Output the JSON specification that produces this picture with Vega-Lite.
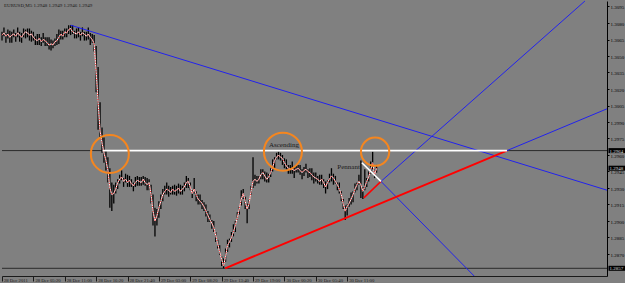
{
"$schema": "https://vega.github.io/schema/vega-lite/v6.json",
"width": 605, "height": 275, "padding": 0, "autosize": {"type": "pad"},
"background": "#808080",
"config": {"view": {"stroke": null},
 "axisX": {"title": null, "grid": false,
  "labelAlign": "left", "labelBaseline": "top", "labelOffset": 1.5, "labelPadding": -3.5, "tickSize": 5,
  "tickColor": "#1a1a1a", "domainColor": "#1a1a1a", "labelColor": "#1a1a1a",
  "labelFont": "Liberation Serif", "labelFontSize": 4.7, "labelOverlap": false, "labelFlush": false, "labelBound": false},
 "axisY": {"title": null, "grid": false, "tickSize": 2, "labelPadding": 1,
  "tickColor": "#000000", "domainColor": "#000000", "labelColor": "#000000",
  "labelFont": "Liberation Serif", "labelFontSize": 5, "labelOverlap": false, "labelFlush": false, "labelBound": false}},
"datasets": {
"bars": [
{"t":0,"h":1.3072,"l":1.3064,"c":1.3069},{"t":4,"h":1.3076,"l":1.3068,"c":1.3071},{"t":8,"h":1.3071,"l":1.3062,"c":1.3068},{"t":12,"h":1.3074,"l":1.3066,"c":1.3070},
{"t":16,"h":1.3073,"l":1.3062,"c":1.3067},{"t":20,"h":1.3072,"l":1.3062,"c":1.3069},{"t":24,"h":1.3074,"l":1.3067,"c":1.3070},{"t":28,"h":1.3071,"l":1.3063,"c":1.3068},
{"t":32,"h":1.3076,"l":1.3067,"c":1.3071},{"t":36,"h":1.3072,"l":1.3063,"c":1.3069},{"t":40,"h":1.3071,"l":1.3062,"c":1.3067},{"t":44,"h":1.3075,"l":1.3067,"c":1.3070},
{"t":48,"h":1.3074,"l":1.3066,"c":1.3072},{"t":52,"h":1.3075,"l":1.3067,"c":1.3071},{"t":56,"h":1.3075,"l":1.3064,"c":1.3069},{"t":60,"h":1.3073,"l":1.3063,"c":1.3070},
{"t":64,"h":1.3072,"l":1.3064,"c":1.3067},{"t":68,"h":1.3068,"l":1.3060,"c":1.3065},{"t":72,"h":1.3070,"l":1.3060,"c":1.3064},{"t":76,"h":1.3070,"l":1.3060,"c":1.3066},
{"t":80,"h":1.3067,"l":1.3059,"c":1.3063},{"t":84,"h":1.3071,"l":1.3062,"c":1.3065},{"t":88,"h":1.3067,"l":1.3059,"c":1.3064},{"t":92,"h":1.3067,"l":1.3059,"c":1.3062},
{"t":96,"h":1.3067,"l":1.3056,"c":1.3060},{"t":100,"h":1.3065,"l":1.3055,"c":1.3061},{"t":104,"h":1.3064,"l":1.3057,"c":1.3060},{"t":108,"h":1.3066,"l":1.3059,"c":1.3063},
{"t":112,"h":1.3070,"l":1.3060,"c":1.3064},{"t":116,"h":1.3074,"l":1.3061,"c":1.3067},{"t":120,"h":1.3073,"l":1.3065,"c":1.3070},{"t":124,"h":1.3073,"l":1.3065,"c":1.3068},
{"t":128,"h":1.3075,"l":1.3067,"c":1.3072},{"t":132,"h":1.3075,"l":1.3067,"c":1.3071},{"t":136,"h":1.3078,"l":1.3070,"c":1.3074},{"t":140,"h":1.3078,"l":1.3069,"c":1.3075},
{"t":144,"h":1.3078,"l":1.3070,"c":1.3072},{"t":148,"h":1.3073,"l":1.3066,"c":1.3071},{"t":152,"h":1.3075,"l":1.3066,"c":1.3070},{"t":156,"h":1.3076,"l":1.3067,"c":1.3072},
{"t":160,"h":1.3072,"l":1.3064,"c":1.3069},{"t":164,"h":1.3076,"l":1.3068,"c":1.3071},{"t":168,"h":1.3072,"l":1.3064,"c":1.3070},{"t":172,"h":1.3072,"l":1.3064,"c":1.3068},
{"t":176,"h":1.3076,"l":1.3065,"c":1.3070},{"t":180,"h":1.3071,"l":1.3060,"c":1.3067},{"t":184,"h":1.3070,"l":1.3062,"c":1.3065},{"t":188,"h":1.3069,"l":1.3054,"c":1.3061},
{"t":192,"h":1.3059,"l":1.3017,"c":1.3036},{"t":196,"h":1.3040,"l":1.2983,"c":1.3008},{"t":200,"h":1.3008,"l":1.2976,"c":1.2982},{"t":204,"h":1.2985,"l":1.2962,"c":1.2971},
{"t":208,"h":1.2976,"l":1.2953,"c":1.2962},{"t":212,"h":1.2964,"l":1.2946,"c":1.2955},{"t":216,"h":1.2958,"l":1.2935,"c":1.2946},{"t":220,"h":1.2948,"l":1.2912,"c":1.2930},
{"t":224,"h":1.2935,"l":1.2909,"c":1.2924},{"t":228,"h":1.2933,"l":1.2916,"c":1.2925},{"t":232,"h":1.2935,"l":1.2925,"c":1.2929},{"t":236,"h":1.2938,"l":1.2929,"c":1.2935},
{"t":240,"h":1.2942,"l":1.2934,"c":1.2938},{"t":244,"h":1.2946,"l":1.2937,"c":1.2940},{"t":248,"h":1.2939,"l":1.2931,"c":1.2936},{"t":252,"h":1.2943,"l":1.2935,"c":1.2938},
{"t":256,"h":1.2942,"l":1.2931,"c":1.2935},{"t":260,"h":1.2941,"l":1.2931,"c":1.2937},{"t":264,"h":1.2938,"l":1.2931,"c":1.2934},{"t":268,"h":1.2935,"l":1.2927,"c":1.2932},
{"t":272,"h":1.2940,"l":1.2931,"c":1.2935},{"t":276,"h":1.2941,"l":1.2932,"c":1.2937},{"t":280,"h":1.2940,"l":1.2932,"c":1.2936},{"t":284,"h":1.2940,"l":1.2932,"c":1.2935},
{"t":288,"h":1.2941,"l":1.2933,"c":1.2938},{"t":292,"h":1.2940,"l":1.2932,"c":1.2935},{"t":296,"h":1.2939,"l":1.2928,"c":1.2933},{"t":300,"h":1.2938,"l":1.2928,"c":1.2935},
{"t":304,"h":1.2933,"l":1.2916,"c":1.2924},{"t":308,"h":1.2924,"l":1.2896,"c":1.2909},{"t":312,"h":1.2912,"l":1.2886,"c":1.2900},{"t":316,"h":1.2911,"l":1.2896,"c":1.2905},
{"t":320,"h":1.2918,"l":1.2903,"c":1.2912},{"t":324,"h":1.2924,"l":1.2911,"c":1.2918},{"t":328,"h":1.2929,"l":1.2918,"c":1.2924},{"t":332,"h":1.2932,"l":1.2924,"c":1.2927},
{"t":336,"h":1.2935,"l":1.2924,"c":1.2929},{"t":340,"h":1.2932,"l":1.2922,"c":1.2928},{"t":344,"h":1.2931,"l":1.2924,"c":1.2926},{"t":348,"h":1.2932,"l":1.2924,"c":1.2929},
{"t":352,"h":1.2933,"l":1.2924,"c":1.2927},{"t":356,"h":1.2932,"l":1.2923,"c":1.2928},{"t":360,"h":1.2934,"l":1.2925,"c":1.2930},{"t":364,"h":1.2933,"l":1.2924,"c":1.2927},
{"t":368,"h":1.2932,"l":1.2924,"c":1.2929},{"t":372,"h":1.2935,"l":1.2927,"c":1.2931},{"t":376,"h":1.2941,"l":1.2930,"c":1.2935},{"t":380,"h":1.2939,"l":1.2930,"c":1.2936},
{"t":384,"h":1.2935,"l":1.2928,"c":1.2931},{"t":388,"h":1.2928,"l":1.2921,"c":1.2925},{"t":392,"h":1.2939,"l":1.2925,"c":1.2929},{"t":396,"h":1.2927,"l":1.2918,"c":1.2924},
{"t":400,"h":1.2924,"l":1.2915,"c":1.2920},{"t":404,"h":1.2924,"l":1.2915,"c":1.2918},{"t":408,"h":1.2919,"l":1.2911,"c":1.2916},{"t":412,"h":1.2917,"l":1.2909,"c":1.2913},
{"t":416,"h":1.2915,"l":1.2904,"c":1.2909},{"t":420,"h":1.2909,"l":1.2899,"c":1.2905},{"t":424,"h":1.2906,"l":1.2899,"c":1.2901},{"t":428,"h":1.2901,"l":1.2893,"c":1.2898},
{"t":432,"h":1.2900,"l":1.2890,"c":1.2894},{"t":436,"h":1.2890,"l":1.2881,"c":1.2887},{"t":440,"h":1.2883,"l":1.2875,"c":1.2879},{"t":444,"h":1.2878,"l":1.2869,"c":1.2872},
{"t":448,"h":1.2868,"l":1.2859,"c":1.2865},{"t":452,"h":1.2866,"l":1.2857,"c":1.2859},{"t":456,"h":1.2875,"l":1.2863,"c":1.2868},{"t":460,"h":1.2883,"l":1.2872,"c":1.2878},
{"t":464,"h":1.2884,"l":1.2876,"c":1.2881},{"t":468,"h":1.2890,"l":1.2881,"c":1.2885},{"t":472,"h":1.2897,"l":1.2886,"c":1.2890},{"t":476,"h":1.2900,"l":1.2890,"c":1.2896},
{"t":480,"h":1.2908,"l":1.2901,"c":1.2903},{"t":484,"h":1.2913,"l":1.2906,"c":1.2911},{"t":488,"h":1.2928,"l":1.2914,"c":1.2920},{"t":492,"h":1.2929,"l":1.2920,"c":1.2925},
{"t":496,"h":1.2922,"l":1.2911,"c":1.2918},{"t":500,"h":1.2916,"l":1.2898,"c":1.2911},{"t":504,"h":1.2919,"l":1.2911,"c":1.2916},{"t":508,"h":1.2932,"l":1.2924,"c":1.2927},
{"t":512,"h":1.2958,"l":1.2930,"c":1.2936},{"t":516,"h":1.2942,"l":1.2932,"c":1.2938},{"t":520,"h":1.2941,"l":1.2934,"c":1.2936},{"t":524,"h":1.2941,"l":1.2934,"c":1.2938},
{"t":528,"h":1.2947,"l":1.2938,"c":1.2942},{"t":532,"h":1.2947,"l":1.2938,"c":1.2944},{"t":536,"h":1.2945,"l":1.2936,"c":1.2941},{"t":540,"h":1.2944,"l":1.2935,"c":1.2938},
{"t":544,"h":1.2943,"l":1.2935,"c":1.2940},{"t":548,"h":1.2948,"l":1.2940,"c":1.2944},{"t":552,"h":1.2956,"l":1.2945,"c":1.2949},{"t":556,"h":1.2958,"l":1.2948,"c":1.2955},
{"t":560,"h":1.2962,"l":1.2956,"c":1.2958},{"t":564,"h":1.2963,"l":1.2956,"c":1.2960},{"t":568,"h":1.2962,"l":1.2955,"c":1.2958},{"t":572,"h":1.2960,"l":1.2951,"c":1.2957},
{"t":576,"h":1.2957,"l":1.2948,"c":1.2953},{"t":580,"h":1.2956,"l":1.2947,"c":1.2950},{"t":584,"h":1.2951,"l":1.2943,"c":1.2948},{"t":588,"h":1.2951,"l":1.2943,"c":1.2947},
{"t":592,"h":1.2954,"l":1.2943,"c":1.2947},{"t":596,"h":1.2949,"l":1.2939,"c":1.2946},{"t":600,"h":1.2951,"l":1.2944,"c":1.2947},{"t":604,"h":1.2951,"l":1.2944,"c":1.2948},
{"t":608,"h":1.2951,"l":1.2942,"c":1.2946},{"t":612,"h":1.2947,"l":1.2938,"c":1.2944},{"t":616,"h":1.2949,"l":1.2941,"c":1.2946},{"t":620,"h":1.2952,"l":1.2944,"c":1.2947},
{"t":624,"h":1.2947,"l":1.2939,"c":1.2945},{"t":628,"h":1.2948,"l":1.2940,"c":1.2944},{"t":632,"h":1.2948,"l":1.2937,"c":1.2942},{"t":636,"h":1.2944,"l":1.2934,"c":1.2940},
{"t":640,"h":1.2944,"l":1.2936,"c":1.2939},{"t":644,"h":1.2941,"l":1.2934,"c":1.2938},{"t":648,"h":1.2942,"l":1.2933,"c":1.2936},{"t":652,"h":1.2942,"l":1.2933,"c":1.2938},
{"t":656,"h":1.2938,"l":1.2930,"c":1.2935},{"t":660,"h":1.2936,"l":1.2925,"c":1.2931},{"t":664,"h":1.2937,"l":1.2929,"c":1.2935},{"t":668,"h":1.2943,"l":1.2935,"c":1.2938},
{"t":672,"h":1.2948,"l":1.2936,"c":1.2941},{"t":676,"h":1.2943,"l":1.2933,"c":1.2939},{"t":680,"h":1.2941,"l":1.2934,"c":1.2936},{"t":684,"h":1.2935,"l":1.2928,"c":1.2933},
{"t":688,"h":1.2935,"l":1.2925,"c":1.2929},{"t":692,"h":1.2927,"l":1.2918,"c":1.2924},{"t":696,"h":1.2920,"l":1.2911,"c":1.2916},{"t":700,"h":1.2914,"l":1.2901,"c":1.2909},
{"t":704,"h":1.2915,"l":1.2905,"c":1.2913},{"t":708,"h":1.2921,"l":1.2913,"c":1.2916},{"t":712,"h":1.2926,"l":1.2915,"c":1.2920},{"t":716,"h":1.2927,"l":1.2917,"c":1.2924},
{"t":720,"h":1.2934,"l":1.2926,"c":1.2929},{"t":724,"h":1.2935,"l":1.2928,"c":1.2933},{"t":728,"h":1.2942,"l":1.2933,"c":1.2936},{"t":732,"h":1.2955,"l":1.2921,"c":1.2933},
{"t":736,"h":1.2931,"l":1.2920,"c":1.2927},{"t":740,"h":1.2947,"l":1.2928,"c":1.2931},{"t":744,"h":1.2939,"l":1.2931,"c":1.2936},{"t":748,"h":1.2945,"l":1.2936,"c":1.2940},
{"t":752,"h":1.2954,"l":1.2943,"c":1.2947},{"t":756,"h":1.2963,"l":1.2947,"c":1.2953},{"t":760,"h":1.2947,"l":1.2939,"c":1.2942},{"t":764,"h":1.2951,"l":1.2944,"c":1.2948}
],
"segs": [
{"k":"dark","t":0,"p":1.2964,"t2":1234,"p2":1.2964},
{"k":"dark","t":0,"p":1.2857,"t2":1234,"p2":1.2857},
{"k":"blue","t":140,"p":1.3078,"t2":1234,"p2":1.2928},
{"k":"blue","t":773,"p":1.2936,"t2":963,"p2":1.2850},
{"k":"blue","t":773,"p":1.2936,"t2":1189,"p2":1.3100},
{"k":"blue","t":1030,"p":1.2964,"t2":1234,"p2":1.3002},
{"k":"red","t":455,"p":1.2857,"t2":1030,"p2":1.2964},
{"k":"redthin","t":738,"p":1.2921,"t2":773,"p2":1.2936},
{"k":"white","t":205,"p":1.2964,"t2":1030,"p2":1.2964},
{"k":"white","t":734,"p":1.2953,"t2":773,"p2":1.2936}
],
"circles": [
{"n":"big","t":220,"p":1.2961},
{"n":"big","t":573,"p":1.2963},
{"n":"small","t":761,"p":1.2963}
],
"notes": [
{"s":"Ascending","t":575,"p":1.2969},
{"s":"Pennant","t":707,"p":1.2949}
],
"tags": [
{"s":"1.2964","t":1234,"p":1.2964},
{"s":"1.2948","t":1234,"p":1.2948},
{"s":"1.2857","t":1234,"p":1.2857}
],
"header": [{"s":"EURUSD,M5  1.2948 1.2949 1.2946 1.2949","t":0,"p":1.31}]
},
"encoding": {
"x": {"field": "t", "type": "quantitative",
 "scale": {"domain": [0, 1234], "nice": false, "zero": false},
 "axis": {"values": [0,64,128,192,256,320,384,448,512,576,640,704],
  "labelExpr": "datum.value == 0 ? '28 Dec 2011' : datum.value == 64 ? '28 Dec 05:20' : datum.value == 128 ? '28 Dec 11:00' : datum.value == 192 ? '28 Dec 16:20' : datum.value == 256 ? '28 Dec 21:40' : datum.value == 320 ? '29 Dec 03:00' : datum.value == 384 ? '29 Dec 08:20' : datum.value == 448 ? '29 Dec 13:40' : datum.value == 512 ? '29 Dec 19:00' : datum.value == 576 ? '30 Dec 00:20' : datum.value == 640 ? '30 Dec 05:40' : '30 Dec 11:00'"}},
"y": {"field": "p", "type": "quantitative",
 "scale": {"domain": [1.285, 1.31], "nice": false, "zero": false},
 "axis": {"orient": "right", "format": ".4f",
  "values": [1.287,1.2885,1.29,1.2915,1.293,1.2945,1.296,1.2975,1.299,1.3005,1.302,1.3035,1.305,1.3065,1.308,1.3095]}}
},
"layer": [
{"data": {"name": "segs"}, "transform": [{"filter": "datum.k == 'dark'"}],
 "mark": {"type": "rule", "color": "#2a2a2a", "strokeWidth": 1},
 "encoding": {"x2": {"field": "t2"}, "y2": {"field": "p2"}}},
{"data": {"name": "bars"},
 "mark": {"type": "rule", "color": "#000000", "strokeWidth": 1.3},
 "encoding": {
  "y": {"field": "l", "type": "quantitative", "scale": {"domain": [1.285, 1.31], "nice": false, "zero": false},
   "axis": {"orient": "right", "format": ".4f", "values": [1.287,1.2885,1.29,1.2915,1.293,1.2945,1.296,1.2975,1.299,1.3005,1.302,1.3035,1.305,1.3065,1.308,1.3095]}},
  "y2": {"field": "h"}}},
{"data": {"name": "bars"},
 "mark": {"type": "line", "color": "#ffffff", "strokeWidth": 1},
 "encoding": {"y": {"field": "c", "type": "quantitative", "scale": {"domain": [1.285, 1.31], "nice": false, "zero": false},
   "axis": {"orient": "right", "format": ".4f", "values": [1.287,1.2885,1.29,1.2915,1.293,1.2945,1.296,1.2975,1.299,1.3005,1.302,1.3035,1.305,1.3065,1.308,1.3095]}}}},
{"data": {"name": "bars"},
 "mark": {"type": "line", "color": "#ff2020", "strokeWidth": 1, "strokeDash": [1, 1.5]},
 "encoding": {"y": {"field": "c", "type": "quantitative", "scale": {"domain": [1.285, 1.31], "nice": false, "zero": false},
   "axis": {"orient": "right", "format": ".4f", "values": [1.287,1.2885,1.29,1.2915,1.293,1.2945,1.296,1.2975,1.299,1.3005,1.302,1.3035,1.305,1.3065,1.308,1.3095]}}}},
{"data": {"name": "segs"}, "transform": [{"filter": "datum.k == 'blue'"}],
 "mark": {"type": "rule", "color": "#2222ee", "strokeWidth": 1},
 "encoding": {"x2": {"field": "t2"}, "y2": {"field": "p2"}}},
{"data": {"name": "segs"}, "transform": [{"filter": "datum.k == 'red'"}],
 "mark": {"type": "rule", "color": "#ff0000", "strokeWidth": 2},
 "encoding": {"x2": {"field": "t2"}, "y2": {"field": "p2"}}},
{"data": {"name": "segs"}, "transform": [{"filter": "datum.k == 'redthin'"}],
 "mark": {"type": "rule", "color": "#ff0000", "strokeWidth": 1.5},
 "encoding": {"x2": {"field": "t2"}, "y2": {"field": "p2"}}},
{"data": {"name": "segs"}, "transform": [{"filter": "datum.k == 'white'"}],
 "mark": {"type": "rule", "color": "#ffffff", "strokeWidth": 1.6},
 "encoding": {"x2": {"field": "t2"}, "y2": {"field": "p2"}}},
{"data": {"name": "circles"}, "transform": [{"filter": "datum.n == 'big'"}],
 "mark": {"type": "point", "shape": "circle", "filled": false, "stroke": "#f5861f", "strokeWidth": 2, "size": 1444, "opacity": 1}},
{"data": {"name": "circles"}, "transform": [{"filter": "datum.n == 'small'"}],
 "mark": {"type": "point", "shape": "circle", "filled": false, "stroke": "#f5861f", "strokeWidth": 2, "size": 800, "opacity": 1}},
{"data": {"name": "notes"},
 "mark": {"type": "text", "font": "Liberation Serif", "fontSize": 7, "color": "#1a1a1a", "align": "center", "baseline": "middle"},
 "encoding": {"text": {"field": "s"}}},
{"data": {"name": "tags"},
 "mark": {"type": "rect", "fill": "#000000", "xOffset": 1.5, "x2Offset": 19.5, "yOffset": -2.5, "y2Offset": 2.5},
 "encoding": {"x2": {"field": "t"}, "y2": {"field": "p"}}},
{"data": {"name": "tags"},
 "mark": {"type": "text", "font": "Liberation Serif", "fontSize": 5, "color": "#dddddd", "align": "left", "baseline": "middle", "dx": 2.5},
 "encoding": {"text": {"field": "s"}}},
{"data": {"name": "header"},
 "mark": {"type": "text", "font": "Liberation Serif", "fontSize": 5, "color": "#1a1a1a", "align": "left", "baseline": "middle", "dx": 2, "dy": 4},
 "encoding": {"text": {"field": "s"}}}
]
}
